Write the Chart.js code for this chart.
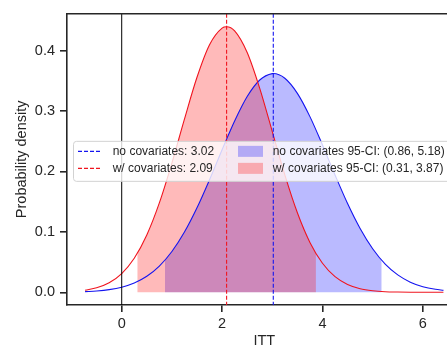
<!DOCTYPE html>
<html><head><meta charset="utf-8">
<script src="https://cdn.jsdelivr.net/npm/chart.js@4/dist/chart.umd.min.js"></script>
<style>
html,body{margin:0;padding:0;overflow:hidden;background:#fff;width:447px;height:348px}
#wrap{position:absolute;left:0;top:0;width:470px;height:348px}
</style>
</head><body><div id="wrap"><canvas id="c" width="470" height="348"></canvas></div>
<script>
// ---- data ----
const xGrid = [-0.73,-0.5,-0.25,0,0.25,0.5,0.75,1,1.25,1.5,1.75,2,2.09,2.25,2.5,2.75,3,3.02,3.25,3.5,3.75,4,4.25,4.5,4.75,5,5.25,5.5,5.75,6,6.25,6.41];
const densNoCov = [0.00111,0.00220,0.00443,0.00847,0.01537,0.02649,0.04337,0.06748,0.09966,0.1398,0.1863,0.2359,0.2535,0.2836,0.3239,0.3513,0.3619,0.3620,0.3542,0.3292,0.2907,0.2438,0.1942,0.1469,0.1056,0.0721,0.0467,0.0288,0.0168,0.00935,0.00493,0.00319];
const densWCov  = [0.00354,0.00752,0.01587,0.03108,0.05638,0.09486,0.1479,0.2138,0.2865,0.3558,0.4097,0.4372,0.4394,0.4326,0.3968,0.3374,0.2659,0.2601,0.1943,0.1316,0.0826,0.0481,0.0259,0.0130,0.0060,0.0026,0.0010,0.0004,0.0001,0.00004,0.00001,0];
const meanNoCov = 3.02, meanWCov = 2.09;
const ciNoCov = [0.86, 5.18], ciWCov = [0.31, 3.87];
const ciEdgeDensNoCov = [0.0530, 0.0530];   // curve height at CI bounds
const ciEdgeDensWCov  = [0.0643, 0.0643];
const xTicks = [0, 2, 4, 6];
const yTicks = [0.0, 0.1, 0.2, 0.3, 0.4];
const xRange = [-1.09, 6.77], yRange = [-0.021, 0.461];
const labels = {
  lineNo: 'no covariates: ' + meanNoCov.toFixed(2),
  lineW: 'w/ covariates: ' + meanWCov.toFixed(2),
  ciNo: 'no covariates 95-CI: (' + ciNoCov[0].toFixed(2) + ', ' + ciNoCov[1].toFixed(2) + ')',
  ciW: 'w/ covariates 95-CI: (' + ciWCov[0].toFixed(2) + ', ' + ciWCov[1].toFixed(2) + ')'
};

// ---- build series ----
const curve = ys => xGrid.map((x, i) => ({x, y: ys[i]}));
function ciFill(ys, ci, edge) {
  const pts = [{x: ci[0], y: edge[0]}];
  xGrid.forEach((x, i) => { if (x > ci[0] && x < ci[1]) pts.push({x, y: ys[i]}); });
  pts.push({x: ci[1], y: edge[1]});
  return pts;
}
const INK = '#262626';
const FONT = '"Liberation Sans", Arial, Helvetica, sans-serif';
const BLUE = 'rgb(20,20,240)', RED = 'rgb(240,20,30)';
const BLUE_FILL = 'rgba(0,0,255,0.27)', RED_FILL = 'rgba(255,0,0,0.27)';

const decor = {
  id: 'decor',
  afterDatasetsDraw(chart) {
    const {ctx, chartArea: ca, scales: {x}} = chart;
    ctx.save();
    ctx.beginPath(); ctx.rect(ca.left, ca.top, ca.right - ca.left, ca.bottom - ca.top); ctx.clip();
    const vline = (v, color, w, dash) => {
      const px = x.getPixelForValue(v);
      ctx.beginPath(); ctx.setLineDash(dash); ctx.strokeStyle = color; ctx.lineWidth = w;
      ctx.moveTo(px, ca.top); ctx.lineTo(px, ca.bottom); ctx.stroke();
    };
    vline(0, '#000', 1, []);
    vline(meanNoCov, BLUE, 1.1, [4, 2]);
    vline(meanWCov, RED, 1.1, [4, 2]);
    ctx.restore();
    // top & right spines
    ctx.save();
    ctx.strokeStyle = INK; ctx.lineWidth = 1.6;
    ctx.beginPath();
    ctx.moveTo(ca.left - 0.8, ca.top); ctx.lineTo(ca.right, ca.top); ctx.lineTo(ca.right, ca.bottom);
    ctx.stroke();
    ctx.restore();
  },
  afterDraw(chart) {
    const {ctx, chartArea: ca} = chart;
    ctx.save();
    ctx.font = '12px ' + FONT;
    const lx = ca.left + 6;
    const ly = (ca.top + ca.bottom) / 2 - 18.5;
    const t1x = lx + 39.7, p2x = lx + 165, t2x = lx + 199.7;
    const w2 = Math.max(ctx.measureText(labels.ciNo).width, ctx.measureText(labels.ciW).width);
    const bw = t2x + w2 + 5 - lx, bh = 40;
    ctx.beginPath();
    ctx.roundRect(lx + 0.5, ly + 0.5, bw, bh, 3);
    ctx.fillStyle = 'rgba(255,255,255,0.8)'; ctx.fill();
    ctx.strokeStyle = 'rgb(210,210,210)'; ctx.lineWidth = 1; ctx.stroke();
    const rows = [ly + 10.5, ly + 27.5];
    const items = [[BLUE, labels.lineNo, BLUE_FILL, labels.ciNo], [RED, labels.lineW, RED_FILL, labels.ciW]];
    items.forEach(([lc, lt, fc, ft], i) => {
      const y = rows[i];
      ctx.beginPath(); ctx.setLineDash([4, 2]); ctx.strokeStyle = lc; ctx.lineWidth = 1.1;
      ctx.moveTo(lx + 5, y); ctx.lineTo(lx + 28.5, y); ctx.stroke();
      ctx.setLineDash([]);
      ctx.fillStyle = fc; ctx.fillRect(p2x, y - 5.5, 25, 11);
      ctx.fillStyle = INK; ctx.textBaseline = 'middle'; ctx.textAlign = 'left';
      ctx.fillText(lt, t1x, y);
      ctx.fillText(ft, t2x, y);
    });
    ctx.restore();
  }
};

const axisCommon = {
  type: 'linear',
  grid: {display: true, drawOnChartArea: false, drawTicks: true, tickLength: 7, tickWidth: 1.6, tickColor: INK, lineWidth: 1.6, color: INK},
  border: {display: true, color: INK, width: 1.6},
};

new Chart(document.getElementById('c'), {
  type: 'line',
  data: {
    datasets: [
      {data: ciFill(densNoCov, ciNoCov, ciEdgeDensNoCov), fill: 'origin', backgroundColor: BLUE_FILL, borderWidth: 0, pointRadius: 0, cubicInterpolationMode: 'monotone', order: 5},
      {data: ciFill(densWCov, ciWCov, ciEdgeDensWCov), fill: 'origin', backgroundColor: RED_FILL, borderWidth: 0, pointRadius: 0, cubicInterpolationMode: 'monotone', order: 4},
      {data: curve(densNoCov), fill: false, borderColor: BLUE, borderWidth: 1.1, pointRadius: 0, cubicInterpolationMode: 'monotone', order: 3},
      {data: curve(densWCov), fill: false, borderColor: RED, borderWidth: 1.1, pointRadius: 0, cubicInterpolationMode: 'monotone', order: 2}
    ]
  },
  options: {
    animation: false, responsive: false, devicePixelRatio: 1,
    layout: {padding: {top: 8, right: 8.5, left: 0, bottom: 0}},
    plugins: {legend: {display: false}, tooltip: {enabled: false}},
    scales: {
      x: Object.assign({}, axisCommon, {
        min: xRange[0], max: xRange[1],
        afterBuildTicks: s => { s.ticks = xTicks.map(v => ({value: v})); },
        afterFit: s => { s.height = 43; },
        ticks: {font: {family: FONT, size: 14.5}, color: INK, padding: 3, maxRotation: 0, callback: v => String(v)},
        title: {display: true, text: 'ITT', color: INK, font: {family: FONT, size: 14.5, lineHeight: 1}, padding: {top: 0, bottom: 0}}
      }),
      y: Object.assign({}, axisCommon, {
        min: yRange[0], max: yRange[1],
        afterBuildTicks: s => { s.ticks = yTicks.map(v => ({value: v})); },
        afterFit: s => { s.width = 67; },
        ticks: {font: {family: FONT, size: 14.5}, color: INK, padding: 5, callback: v => Number(v).toFixed(1)},
        title: {display: true, text: 'Probability density', color: INK, font: {family: FONT, size: 14.5, lineHeight: 1.2}, padding: {top: 13, bottom: 0}}
      })
    }
  },
  plugins: [decor]
});
</script>
</body></html>
